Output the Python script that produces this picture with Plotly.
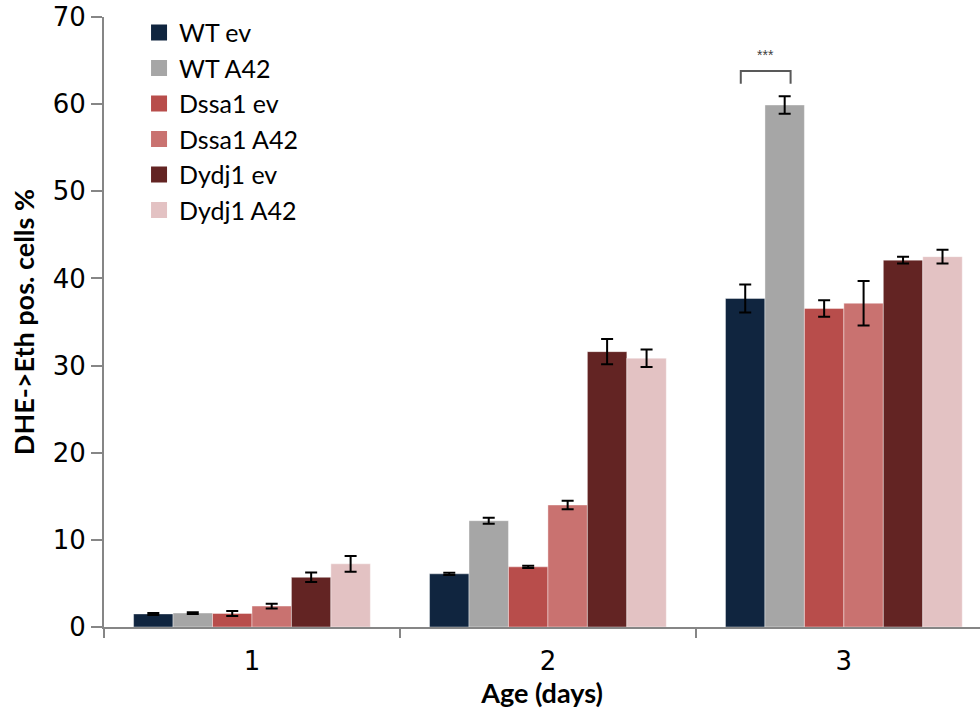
import plotly.graph_objects as go

# Age groups on the x axis
ages = ["1", "2", "3"]

# Strain / construct series
series_names = ["WT ev", "WT A42", "Dssa1 ev", "Dssa1 A42", "Dydj1 ev", "Dydj1 A42"]

# Mean DHE->Eth positive cells (%) per age
wt_ev = [1.5, 6.1, 37.7]
wt_a42 = [1.6, 12.2, 59.9]
dssa1_ev = [1.55, 6.9, 36.55]
dssa1_a42 = [2.4, 14.0, 37.15]
dydj1_ev = [5.7, 31.6, 42.1]
dydj1_a42 = [7.25, 30.85, 42.5]

# Error (+/-) per age
wt_ev_err = [0.12, 0.12, 1.6]
wt_a42_err = [0.1, 0.35, 1.0]
dssa1_ev_err = [0.3, 0.12, 0.95]
dssa1_a42_err = [0.27, 0.5, 2.55]
dydj1_ev_err = [0.55, 1.45, 0.4]
dydj1_a42_err = [0.9, 1.0, 0.8]

values = [wt_ev, wt_a42, dssa1_ev, dssa1_a42, dydj1_ev, dydj1_a42]
errors = [wt_ev_err, wt_a42_err, dssa1_ev_err, dssa1_a42_err, dydj1_ev_err, dydj1_a42_err]
colors = ["#10253F", "#A6A6A6", "#B84D4B", "#C97270", "#632423", "#E3C2C3"]

# Significance marker between WT ev and WT A42 at day 3
sig_text = "***"
sig_group = 2
sig_pair = (0, 1)

fig = go.Figure()
for name, vals, errs, col in zip(series_names, values, errors, colors):
    fig.add_trace(go.Bar(
        name=name, x=ages, y=vals, showlegend=False,
        marker=dict(color=col, line=dict(color="rgba(255,255,255,0.5)", width=0.8)),
        error_y=dict(type="data", array=errs, visible=True,
                     color="black", thickness=2, width=6),
    ))
    # legend entry with a larger square swatch
    fig.add_trace(go.Scatter(
        name=name, x=[None], y=[None], mode="markers",
        marker=dict(symbol="square", size=17, color=col),
        showlegend=True,
    ))

# bracket geometry derived from the grouped-bar layout
bargap = 0.2
n = len(series_names)
bw = (1 - bargap) / n
def bar_center(group, idx):
    return group - (1 - bargap) / 2 + bw * (idx + 0.5)

xa = bar_center(sig_group, sig_pair[0]) - 0.015
xb = bar_center(sig_group, sig_pair[1]) + 0.02
top = max(values[sig_pair[1]][sig_group] + errors[sig_pair[1]][sig_group],
          values[sig_pair[0]][sig_group] + errors[sig_pair[0]][sig_group]) + 2.9
leg = top - 1.45
fig.add_shape(type="path", xref="x", yref="y",
              path=f"M {xa} {leg} L {xa} {top} L {xb} {top} L {xb} {leg}",
              line=dict(color="#595959", width=2))
fig.add_annotation(x=(xa + xb) / 2, y=top + 1.8, xref="x", yref="y",
                   text=sig_text, showarrow=False,
                   font=dict(size=14, color="#404040", family="Liberation Sans"))

axis_gray = "#868686"
fig.update_layout(
    width=980, height=710,
    margin=dict(l=104, r=0, t=17, b=83),
    paper_bgcolor="white", plot_bgcolor="white",
    barmode="group", bargap=bargap, bargroupgap=0,
    font=dict(family="Lato", color="black"),
    showlegend=True,
    legend=dict(x=0.040, y=1.012, xanchor="left", yanchor="top",
                font=dict(size=25, family="Lato"),
                bgcolor="rgba(0,0,0,0)", tracegroupgap=0,
                itemwidth=30),
    xaxis=dict(
        type="category", range=[-0.5, 2.46],
        showline=True, linecolor=axis_gray, linewidth=2,
        ticks="outside", tickson="boundaries", ticklen=9,
        tickcolor=axis_gray, tickwidth=2,
        tickfont=dict(size=26, family="DejaVu Sans"),
        ticklabelstandoff=10,
        title=dict(text="<b>Age (days)</b>", font=dict(size=27, family="Lato"),
                   standoff=0),
        showgrid=False, zeroline=False,
    ),
    yaxis=dict(
        range=[0, 70], dtick=10,
        showline=True, linecolor=axis_gray, linewidth=2,
        ticks="outside", ticklen=11, tickcolor=axis_gray, tickwidth=2,
        tickfont=dict(size=26, family="DejaVu Sans"),
        title=dict(text="<b>DHE->Eth pos. cells %</b>", font=dict(size=27, family="Lato"),
                   standoff=10),
        showgrid=False, zeroline=False,
    ),
)

fig.write_html("out.html")
